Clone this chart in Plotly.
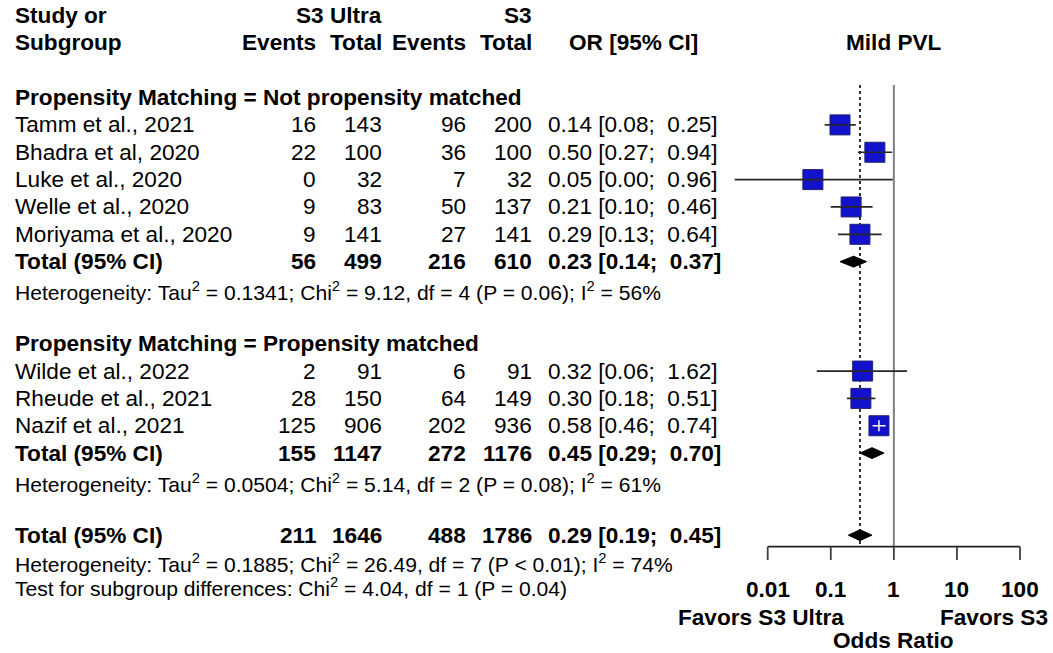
import numpy as np
import plotly.graph_objects as go

# ---------------- data ----------------
group_titles = ["Propensity Matching = Not propensity matched",
                "Propensity Matching = Propensity matched"]
study_names = ["Tamm et al., 2021", "Bhadra et al, 2020", "Luke et al., 2020",
               "Welle et al., 2020", "Moriyama et al., 2020",
               "Wilde et al., 2022", "Rheude et al., 2021", "Nazif et al., 2021"]
study_group = [0, 0, 0, 0, 0, 1, 1, 1]
ev_ultra = [16, 22, 0, 9, 9, 2, 28, 125]
n_ultra = [143, 100, 32, 83, 141, 91, 150, 906]
ev_s3 = [96, 36, 7, 50, 27, 6, 64, 202]
n_s3 = [200, 100, 32, 137, 141, 91, 149, 936]
or_est = [0.14, 0.50, 0.052, 0.21, 0.29, 0.32, 0.30, 0.58]
ci_lo = [0.08, 0.27, 0.003, 0.10, 0.13, 0.06, 0.18, 0.46]
ci_hi = [0.25, 0.94, 0.96, 0.46, 0.64, 1.62, 0.51, 0.74]

sub_ev_ultra = [56, 155]
sub_n_ultra = [499, 1147]
sub_ev_s3 = [216, 272]
sub_n_s3 = [610, 1176]
sub_or = [0.23, 0.45]
sub_lo = [0.14, 0.29]
sub_hi = [0.37, 0.70]
sub_tau2 = ["0.1341", "0.0504"]
sub_chi2 = ["9.12", "5.14"]
sub_df = [4, 2]
sub_p = ["= 0.06", "= 0.08"]
sub_i2 = [56, 61]

tot_ev_ultra, tot_n_ultra, tot_ev_s3, tot_n_s3 = 211, 1646, 488, 1786
tot_or, tot_lo, tot_hi = 0.29, 0.19, 0.45
tot_tau2, tot_chi2, tot_df, tot_p, tot_i2 = "0.1885", "26.49", 7, "< 0.01", 74
test_chi2, test_df, test_p = "4.04", 1, "= 0.04"

tick_vals = [0.01, 0.1, 1, 10, 100]
tick_labels = ["0.01", "0.1", "1", "10", "100"]
null_value = 1

# ---------------- layout constants ----------------
W, H = 1053, 653
ROW0_PX, ROW_PX = 15.5, 27.35          # pixel centre of row 0, row height
X_AT_MIN_PX, DEC_PX = 767.7, 63.08     # pixel of 0.01, pixels per decade
FS, FS_SMALL = 22.6, 21.1
FONT = "Liberation Sans, Arial, sans-serif"
SQ_PX = 20
DIAM_H = 0.2

# columns (pixel)
X_STUDY = 13
X_EV_U, X_N_U, X_EV_S, X_N_S = 318, 384, 468, 534
X_OR = 546
X_OR_HEAD = 633


lg_left = np.log10(tick_vals[0]) - X_AT_MIN_PX / DEC_PX
lg_right = np.log10(tick_vals[0]) + (W - X_AT_MIN_PX) / DEC_PX
row_top = -ROW0_PX / ROW_PX
row_bot = (H - ROW0_PX) / ROW_PX

fig = go.Figure()
ann = []


def txt(xpx, row, s, anchor="left", size=FS, bold=False):
    if bold:
        s = "<b>" + s + "</b>"
    ann.append(dict(x=xpx / W, xref="paper", y=row, yref="y", text=s,
                    showarrow=False, xanchor=anchor, yanchor="middle",
                    font=dict(family=FONT, size=size, color="black")))


def ci_text(o, l, h):
    return f"{o:.2f} [{l:.2f};\u00a0 {h:.2f}]"


def het_text(tau2, chi2, df, p, i2):
    return (f"Heterogeneity: Tau<sup>2</sup> = {tau2}; Chi<sup>2</sup> = {chi2}, "
            f"df = {df} (P {p}); I<sup>2</sup> = {i2}%")


# headers
txt(X_STUDY, 0, "Study or", bold=True)
txt(X_STUDY, 1, "Subgroup", bold=True)
txt(X_N_U, 0, "S3 Ultra", anchor="right", bold=True)
txt(X_N_S, 0, "S3", anchor="right", bold=True)
txt(X_EV_U, 1, "Events", anchor="right", bold=True)
txt(X_N_U, 1, "Total", anchor="right", bold=True)
txt(X_EV_S, 1, "Events", anchor="right", bold=True)
txt(X_N_S, 1, "Total", anchor="right", bold=True)
txt(X_OR_HEAD, 1, "OR [95% CI]", anchor="center", bold=True)

# assign rows
study_rows = []
sub_rows = []
het_rows = []
row = 3
header_rows = []
for g in range(len(group_titles)):
    header_rows.append(row)
    row += 1
    for i, sg in enumerate(study_group):
        if sg == g:
            study_rows.append(row)
            row += 1
    sub_rows.append(row)
    het_rows.append(row + 1)
    row += 3
tot_row = row
tot_het_row = row + 1
test_row = row + 2

for g in range(len(group_titles)):
    txt(X_STUDY, header_rows[g], group_titles[g], bold=True)
    r = sub_rows[g]
    txt(X_STUDY, r, "Total (95% CI)", bold=True)
    txt(X_EV_U, r, str(sub_ev_ultra[g]), "right", bold=True)
    txt(X_N_U, r, str(sub_n_ultra[g]), "right", bold=True)
    txt(X_EV_S, r, str(sub_ev_s3[g]), "right", bold=True)
    txt(X_N_S, r, str(sub_n_s3[g]), "right", bold=True)
    txt(X_OR, r, ci_text(sub_or[g], sub_lo[g], sub_hi[g]), bold=True)
    txt(X_STUDY, het_rows[g] + 0.08,
        het_text(sub_tau2[g], sub_chi2[g], sub_df[g], sub_p[g], sub_i2[g]), size=FS_SMALL)

for i, name in enumerate(study_names):
    r = study_rows[i]
    txt(X_STUDY, r, name)
    txt(X_EV_U, r, str(ev_ultra[i]), "right")
    txt(X_N_U, r, str(n_ultra[i]), "right")
    txt(X_EV_S, r, str(ev_s3[i]), "right")
    txt(X_N_S, r, str(n_s3[i]), "right")
    txt(X_OR, r, ci_text(or_est[i], ci_lo[i], ci_hi[i]))

txt(X_STUDY, tot_row, "Total (95% CI)", bold=True)
txt(X_EV_U, tot_row, str(tot_ev_ultra), "right", bold=True)
txt(X_N_U, tot_row, str(tot_n_ultra), "right", bold=True)
txt(X_EV_S, tot_row, str(tot_ev_s3), "right", bold=True)
txt(X_N_S, tot_row, str(tot_n_s3), "right", bold=True)
txt(X_OR, tot_row, ci_text(tot_or, tot_lo, tot_hi), bold=True)
txt(X_STUDY, tot_het_row, het_text(tot_tau2, tot_chi2, tot_df, tot_p, tot_i2), size=FS_SMALL)
txt(X_STUDY, test_row - 0.1,
    f"Test for subgroup differences: Chi<sup>2</sup> = {test_chi2}, df = {test_df} (P {test_p})",
    size=FS_SMALL)

# ---------------- forest graphics ----------------
line_top = 2.54
axis_row = tot_row + 0.42
tick_len = 0.49

# reference line at 1 (grey) and dotted line at overall estimate
fig.add_trace(go.Scatter(x=[null_value, null_value], y=[line_top, axis_row], mode="lines",
                         line=dict(color="#808080", width=2), hoverinfo="skip"))
fig.add_trace(go.Scatter(x=[tot_or, tot_or], y=[line_top, axis_row], mode="lines",
                         line=dict(color="black", width=1.6, dash="dot"), hoverinfo="skip"))

# squares
fig.add_trace(go.Scatter(x=or_est, y=study_rows, mode="markers",
                         marker=dict(symbol="square", size=SQ_PX, color="#1212cc",
                                     line=dict(color="#202070", width=1)),
                         hoverinfo="skip"))

# CI lines (white when entirely hidden in the square)
half_sq_dec = (SQ_PX + 1) / 2 / DEC_PX
xs_dark, ys_dark, xs_white, ys_white, wx, wy = [], [], [], [], [], []
for i in range(len(study_names)):
    inside = (np.log10(or_est[i]) - np.log10(ci_lo[i]) < half_sq_dec and
              np.log10(ci_hi[i]) - np.log10(or_est[i]) < half_sq_dec)
    if inside:
        xs_white += [ci_lo[i], ci_hi[i], None]
        ys_white += [study_rows[i], study_rows[i], None]
        wx.append(or_est[i]); wy.append(study_rows[i])
    else:
        xs_dark += [ci_lo[i], ci_hi[i], None]
        ys_dark += [study_rows[i], study_rows[i], None]
fig.add_trace(go.Scatter(x=xs_dark, y=ys_dark, mode="lines",
                         line=dict(color="#262626", width=1.7), hoverinfo="skip"))
fig.add_trace(go.Scatter(x=xs_white, y=ys_white, mode="lines",
                         line=dict(color="white", width=1.5), hoverinfo="skip"))
fig.add_trace(go.Scatter(x=wx, y=wy, mode="markers",
                         marker=dict(symbol="line-ns", size=8, line=dict(color="white", width=1.5)),
                         hoverinfo="skip"))

# diamonds
d_est = sub_or + [tot_or]
d_lo = sub_lo + [tot_lo]
d_hi = sub_hi + [tot_hi]
d_rows = sub_rows + [tot_row]
for o, l, h, r in zip(d_est, d_lo, d_hi, d_rows):
    fig.add_trace(go.Scatter(x=[l, o, h, o, l], y=[r, r - DIAM_H, r, r + DIAM_H, r],
                             mode="lines", fill="toself", fillcolor="black",
                             line=dict(color="black", width=1), hoverinfo="skip"))

# axis
fig.add_trace(go.Scatter(x=[tick_vals[0], tick_vals[-1]], y=[axis_row, axis_row], mode="lines",
                         line=dict(color="#202020", width=1.8), hoverinfo="skip"))
tx, ty = [], []
for t in tick_vals:
    tx += [t, t, None]
    ty += [axis_row, axis_row + tick_len, None]
fig.add_trace(go.Scatter(x=tx, y=ty, mode="lines",
                         line=dict(color="#404040", width=1.8), hoverinfo="skip"))
for t, lab in zip(tick_vals, tick_labels):
    ann.append(dict(x=np.log10(t), xref="x", y=test_row, yref="y", text="<b>" + lab + "</b>",
                    showarrow=False, xanchor="center", yanchor="middle",
                    font=dict(family=FONT, size=FS, color="black")))

ann.append(dict(x=np.log10(null_value), xref="x", y=1, yref="y", text="<b>Mild PVL</b>",
                showarrow=False, xanchor="center", yanchor="middle",
                font=dict(family=FONT, size=FS, color="black")))
txt(846, test_row + 1, "Favors S3 Ultra", anchor="right", bold=True)
txt(1050, test_row + 1, "Favors S3", anchor="right", bold=True)
ann.append(dict(x=np.log10(null_value), xref="x", y=test_row + 1.84, yref="y",
                text="<b>Odds Ratio</b>", showarrow=False, xanchor="center", yanchor="middle",
                borderpad=0,
                font=dict(family=FONT, size=FS, color="black")))

fig.update_layout(
    width=W, height=H, autosize=False,
    margin=dict(l=0, r=0, t=0, b=0, pad=0),
    paper_bgcolor="white", plot_bgcolor="white",
    showlegend=False,
    xaxis=dict(type="log", range=[lg_left, lg_right], domain=[0, 1], visible=False,
               showgrid=False, zeroline=False, fixedrange=True),
    yaxis=dict(range=[row_bot, row_top], domain=[0, 1], visible=False,
               showgrid=False, zeroline=False, fixedrange=True),
    annotations=ann,
)

fig.write_html("out.html")
